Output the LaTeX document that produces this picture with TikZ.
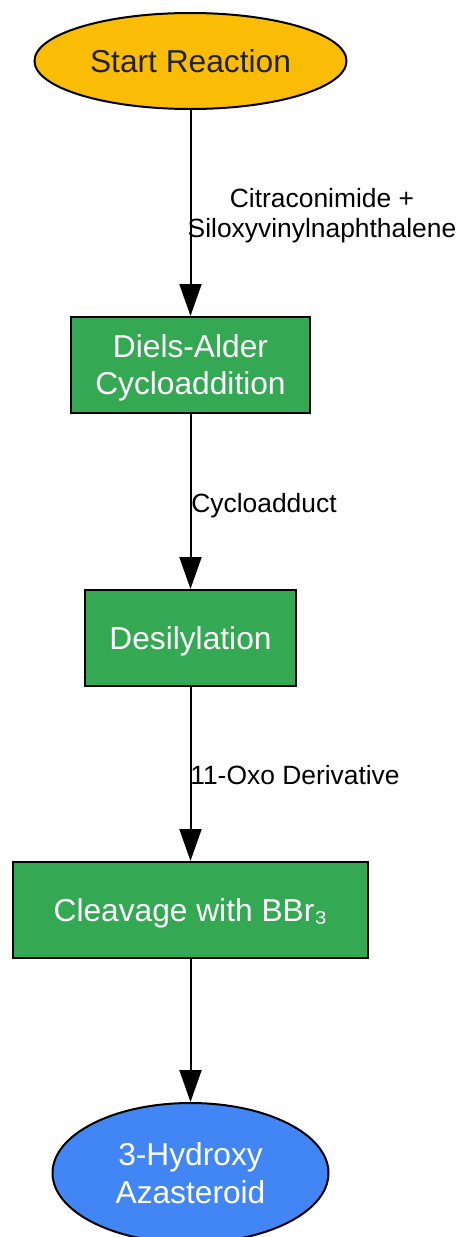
\documentclass[tikz,border=0pt]{standalone}
\usepackage{fontspec}
\setmainfont{Liberation Sans}
\usetikzlibrary{shapes.geometric,arrows.meta}
\definecolor{startyellow}{HTML}{FBBC05}
\definecolor{stepgreen}{HTML}{34A853}
\definecolor{endblue}{HTML}{4285F4}
\definecolor{darktext}{HTML}{222222}
\begin{document}
\begin{tikzpicture}[x=1pt,y=-1pt,
  nodefont/.style={font=\fontsize{31.7}{37}\selectfont,text depth=0pt},
  startnode/.style={ellipse,draw=black,line width=2pt,fill=startyellow,text=darktext,nodefont,inner sep=0pt,minimum width=312pt,minimum height=96pt},
  endnode/.style={ellipse,draw=black,line width=2pt,fill=endblue,text=white,nodefont,align=center,inner sep=0pt,minimum width=276pt,minimum height=140pt},
  stepbox/.style={rectangle,draw=black,line width=2pt,fill=stepgreen,text=white,nodefont,align=center,inner sep=0pt,minimum height=96pt},
  edgelabel/.style={font=\fontsize{26.4}{30}\selectfont,align=center,inner sep=0pt,text=black,text depth=0pt},
  flow/.style={line width=2pt,-{Triangle[width=22pt,length=32pt]}}]
\useasboundingbox (0,0) rectangle (463,1237);
\node[startnode] (start) at (190.5,61) {Start Reaction};
\node[stepbox,minimum width=239pt] (da) at (190.5,365) {Diels-Alder\\Cycloaddition};
\node[stepbox,minimum width=211pt] (desil) at (190.5,638) {Desilylation};
\node[stepbox,minimum width=355pt] (cleave) at (190.5,910) {Cleavage with BBr₃};
\node[endnode] (final) at (190.5,1173) {3-Hydroxy\\Azasteroid};
\draw[flow] (start) -- (da);
\draw[flow] (da) -- (desil);
\draw[flow] (desil) -- (cleave);
\draw[flow] (cleave) -- (final);
\node[edgelabel] (l1) at (322,212.5) {Citraconimide +\\Siloxyvinylnaphthalene};
\node[edgelabel] (l2) at (264,502.5) {Cycloadduct};
\node[edgelabel] (l3) at (295,775) {11-Oxo Derivative};
\end{tikzpicture}
\end{document}
